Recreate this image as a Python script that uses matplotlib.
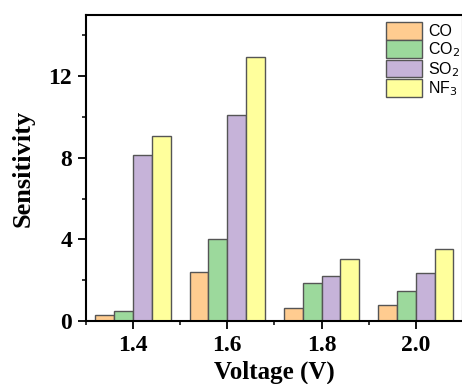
import numpy as np
import matplotlib.pyplot as plt
from matplotlib.ticker import MultipleLocator

# data
voltages = [1.4, 1.6, 1.8, 2.0]
gases = ['CO', 'CO$_2$', 'SO$_2$', 'NF$_3$']
co = [0.3, 2.4, 0.62, 0.77]
co2 = [0.5, 4.03, 1.86, 1.47]
so2 = [8.13, 10.1, 2.2, 2.35]
nf3 = [9.06, 12.94, 3.05, 3.54]

colors = ['#FFCC90', '#9CD99C', '#C6B3D9', '#FFFF9C']
series = [co, co2, so2, nf3]

fig = plt.figure(figsize=(4.62, 3.84), dpi=100)
ax = fig.add_axes([0.186, 0.164, 0.816, 0.797])

width = 0.04
x = np.array(voltages)
for i, (vals, name) in enumerate(zip(series, gases)):
    ax.bar(x + (i - 1.5) * width, vals, width, color=colors[i],
           edgecolor='#555555', linewidth=1.0, label=name)

ax.set_xlim(1.3, 2.1)
ax.set_ylim(0, 15)
ax.set_xticks(voltages)
ax.set_xticklabels(['%.1f' % v for v in voltages])
ax.set_yticks([0, 4, 8, 12])
ax.xaxis.set_minor_locator(plt.FixedLocator([1.3, 1.5, 1.7, 1.9, 2.1]))
ax.yaxis.set_minor_locator(MultipleLocator(2))

serif = {'family': 'Liberation Serif', 'weight': 'bold'}
for lab in ax.get_xticklabels() + ax.get_yticklabels():
    lab.set_fontfamily('Liberation Serif')
    lab.set_fontweight('bold')
    lab.set_fontsize(17)

ax.tick_params(which='major', direction='out', length=6, width=1.3, pad=4)
ax.tick_params(which='minor', direction='out', length=3, width=1.1)
for sp in ax.spines.values():
    sp.set_linewidth(1.5)

ax.set_ylabel('Sensitivity', fontdict=serif, fontsize=19, labelpad=10)
ax.set_xlabel('Voltage (V)', fontdict=serif, fontsize=18, labelpad=3)

leg = ax.legend(loc='upper right', frameon=False, prop={'family': 'Liberation Sans', 'size': 11.5},
                handlelength=2.25, handleheight=1.3, labelspacing=0.05,
                handletextpad=0.4, borderaxespad=0.3, bbox_to_anchor=(1.022, 1.013))

fig.savefig('out.png', dpi=100)
